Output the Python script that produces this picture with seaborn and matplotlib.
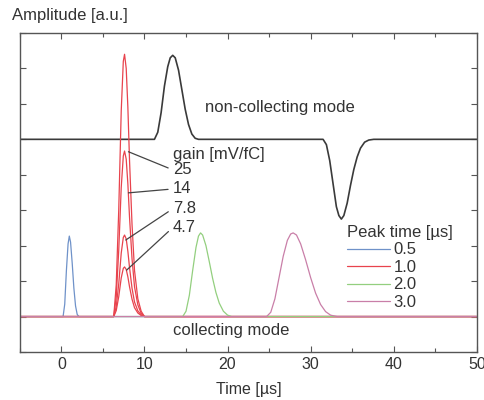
import matplotlib
matplotlib.use("Agg")
import matplotlib.pyplot as plt
import seaborn as sns
import pandas as pd
from matplotlib.ticker import MultipleLocator, NullFormatter

# --- data ---
# shaped pulses on the collecting-mode baseline (y = 0)
blue_t = [-5, 0.2, 0.4, 0.6, 0.8, 0.95, 1.1, 1.3, 1.5, 1.7, 1.9, 2.1, 50]
blue_a = [0, 0, 0.35, 1.3, 2.05, 2.27, 2.1, 1.5, 0.8, 0.3, 0.06, 0, 0]

red_t = [-5, 6.3, 6.6, 6.9, 7.2, 7.45, 7.6, 7.8, 8.0, 8.2, 8.5, 8.8, 9.2, 9.6, 10.0, 50]
red_gain25 = [0, 0, 0.9, 3.0, 5.8, 7.2, 7.4, 7.0, 5.9, 4.4, 2.6, 1.3, 0.5, 0.15, 0, 0]
red_gain14 = [0, 0, 0.56, 1.87, 3.64, 4.53, 4.67, 4.44, 3.74, 2.8, 1.63, 0.84, 0.33, 0.09, 0, 0]
red_gain78 = [0, 0, 0.28, 0.92, 1.79, 2.23, 2.3, 2.19, 1.84, 1.38, 0.8, 0.41, 0.16, 0.05, 0, 0]
red_gain47 = [0, 0, 0.17, 0.56, 1.09, 1.36, 1.4, 1.33, 1.12, 0.84, 0.49, 0.25, 0.1, 0.03, 0, 0]

green_t = [-5, 14.6, 15.0, 15.4, 15.8, 16.2, 16.5, 16.75, 17.0, 17.4, 17.8, 18.2,
           18.6, 19.0, 19.5, 20.0, 20.5, 50]
green_a = [0, 0, 0.15, 0.6, 1.3, 1.95, 2.27, 2.36, 2.3, 2.0, 1.55, 1.08,
           0.68, 0.38, 0.15, 0.04, 0, 0]

pink_t = [-5, 24.7, 25.2, 25.7, 26.2, 26.7, 27.2, 27.6, 27.9, 28.3, 28.8, 29.4,
          30.0, 30.6, 31.2, 31.8, 32.4, 33.2, 50]
pink_a = [0, 0, 0.12, 0.5, 1.1, 1.7, 2.15, 2.33, 2.36, 2.3, 2.05, 1.6,
          1.1, 0.66, 0.34, 0.14, 0.04, 0, 0]

# non-collecting mode trace (offset baseline y = 5)
black_t = [-5, 11.2, 11.6, 12.0, 12.4, 12.8, 13.1, 13.4, 13.7, 14.1, 14.5, 14.9,
           15.3, 15.7, 16.1, 16.5,
           31.5, 31.9, 32.3, 32.7, 33.1, 33.4, 33.7, 34.0, 34.4, 34.8, 35.2,
           35.6, 36.0, 36.5, 37.0, 37.6, 50]
black_a = [5, 5, 5.2, 5.75, 6.5, 7.05, 7.3, 7.37, 7.3, 6.95, 6.4, 5.85,
           5.42, 5.15, 5.03, 5,
           5, 4.85, 4.4, 3.75, 3.1, 2.85, 2.75, 2.85, 3.2, 3.7, 4.15,
           4.5, 4.75, 4.92, 4.98, 5, 5]

peak_times = ["0.5", "1.0", "2.0", "3.0"]
gains = ["25", "14", "7.8", "4.7"]

rows = []
for name, peak, t, a in [
    ("b", "0.5", blue_t, blue_a),
    ("r25", "1.0", red_t, red_gain25),
    ("r14", "1.0", red_t, red_gain14),
    ("r78", "1.0", red_t, red_gain78),
    ("r47", "1.0", red_t, red_gain47),
    ("g", "2.0", green_t, green_a),
    ("p", "3.0", pink_t, pink_a),
]:
    for ti, ai in zip(t, a):
        rows.append({"curve": name, "peak": peak, "t": ti, "amp": ai})
df = pd.DataFrame(rows)

sns.set_style("ticks")
plt.rcParams["font.family"] = ["Liberation Sans", "DejaVu Sans"]
text_col = "#333333"

fig = plt.figure(figsize=(4.85, 4.0), dpi=100)
ax = fig.add_axes([0.041, 0.12, 0.942, 0.7975])

palette = {"0.5": "#6f92c9", "1.0": "#e8434d", "2.0": "#93cf7f", "3.0": "#c97fa8"}

sns.lineplot(x=black_t, y=black_a, ax=ax, color="#3a3a3a", linewidth=1.2)
sns.lineplot(data=df, x="t", y="amp", hue="peak", units="curve", estimator=None,
             palette=palette, hue_order=peak_times, linewidth=0.9, ax=ax,
             sort=False)

ax.set_xlim(-5, 50)
ax.set_ylim(-1, 8)
ax.xaxis.set_major_locator(MultipleLocator(10))
ax.xaxis.set_minor_locator(MultipleLocator(5))
ax.yaxis.set_major_locator(MultipleLocator(1))
ax.yaxis.set_major_formatter(NullFormatter())
ax.tick_params(which="both", direction="in", top=True, right=True,
               color="#555555", labelsize=11.5, labelcolor=text_col)
ax.tick_params(which="major", length=4, width=0.8)
ax.tick_params(which="minor", length=3, width=0.8)
for s in ax.spines.values():
    s.set_color("#555555")
    s.set_linewidth(1.0)

ax.set_xlabel("Time [µs]", fontsize=11.5, color=text_col, labelpad=7)
ax.set_ylabel("")
fig.text(0.025, 0.962, "Amplitude [a.u.]", fontsize=12, color=text_col,
         ha="left", va="center")

ax.text(17.3, 5.9, "non-collecting mode", fontsize=12, color=text_col,
        ha="left", va="center")
ax.text(13.4, -0.38, "collecting mode", fontsize=12, color=text_col,
        ha="left", va="center")
ax.text(13.4, 4.58, "gain [mV/fC]", fontsize=12, color=text_col,
        ha="left", va="center")

label_y = [4.14, 3.60, 3.04, 2.51]
point_xy = [(8.07, 4.65), (8.07, 3.49), (7.75, 2.16), (7.85, 1.31)]
for g, ly, (px, py) in zip(gains, label_y, point_xy):
    ax.annotate(g, xy=(px, py), xytext=(13.4, ly), fontsize=12, color=text_col,
                ha="left", va="center",
                arrowprops=dict(arrowstyle="-", color="#444444", lw=0.9,
                                shrinkA=1, shrinkB=0, relpos=(0, 0.5)))

handles, labels = ax.get_legend_handles_labels()
leg = ax.legend(handles, labels, title="Peak time [µs]", loc="upper left",
                bbox_to_anchor=(0.69, 0.435), frameon=False, fontsize=12,
                title_fontsize=12, handlelength=2.6, handletextpad=0.2,
                labelspacing=0.15, borderpad=0.2)
leg._legend_box.align = "left"
for t in leg.get_texts():
    t.set_color(text_col)
leg.get_title().set_color(text_col)

fig.savefig("out.png", dpi=100)
